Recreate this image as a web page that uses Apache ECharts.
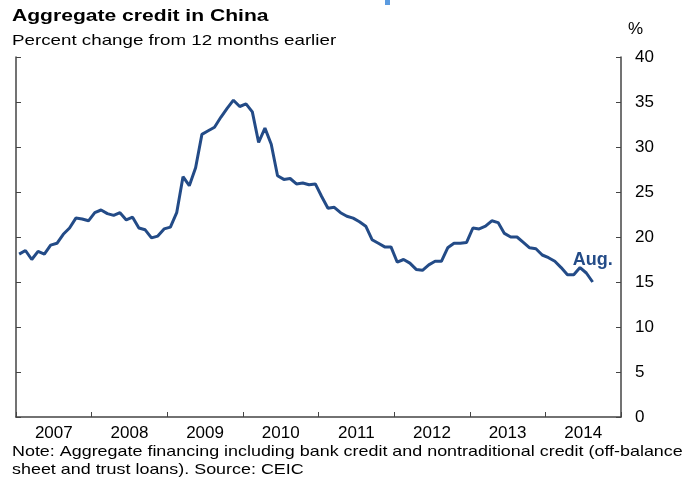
<!DOCTYPE html>
<html><head><meta charset="utf-8">
<script src="https://cdn.jsdelivr.net/npm/echarts@6/dist/echarts.min.js"></script>
<style>html,body{margin:0;padding:0;background:#fff}#c{width:692px;height:481px}</style>
</head><body><div id="c"></div>
<script>
var years = ['2007','2008','2009','2010','2011','2012','2013','2014'];
var yTicks = [0,5,10,15,20,25,30,35,40];
// monthly, Jan 2007 .. Aug 2014
var values = [
  18.1,18.5,17.5,18.4,18.1,19.1,19.3,20.3,21.0,22.1,22.0,21.8,
  22.7,23.0,22.6,22.4,22.7,21.9,22.2,21.0,20.8,19.9,20.1,20.9,
  21.1,22.7,26.7,25.7,27.7,31.4,31.8,32.2,33.3,34.3,35.2,34.5,
  34.8,33.9,30.5,32.1,30.3,26.8,26.4,26.5,25.9,26.0,25.8,25.9,
  24.5,23.2,23.3,22.7,22.3,22.1,21.7,21.2,19.7,19.3,18.9,18.9,
  17.2,17.5,17.1,16.4,16.3,16.9,17.3,17.3,18.8,19.3,19.3,19.4,
  21.0,20.9,21.2,21.8,21.6,20.4,20.0,20.0,19.4,18.8,18.7,18.0,
  17.7,17.3,16.6,15.8,15.8,16.6,16.0,15.0
];
var lastLabel = 'Aug.';

var chart = echarts.init(document.getElementById('c'));
var pts = values.map(function(v,i){ return [i+0.5, v]; });
var nMonths = years.length*12;
var font = 'Liberation Sans, Arial, sans-serif';
var axisCol = '#444';
function txt(s, x, y, f, sx){
  return {type:'text', x:x, y:y, scaleX:sx, originX:0, originY:0,
    style:{text:s, font:f, fill:'#000', textVerticalAlign:'top', verticalAlign:'top'}};
}
chart.setOption({
  animation:false,
  textStyle:{fontFamily:font},
  graphic:[
    txt('Aggregate credit in China', 12, 8, 'bold 17px '+font, 1.24),
    txt('Percent change from 12 months earlier', 12, 33, '15px '+font, 1.25),
    txt('%', 628, 21, '17px '+font, 1),
    txt('Note: Aggregate financing including bank credit and nontraditional credit (off-balance', 12, 444, '15px '+font, 1.194),
    txt('sheet and trust loans). Source: CEIC', 12, 462, '15px '+font, 1.194),
    {type:'rect', x:385, y:0, shape:{width:5,height:5}, style:{fill:'#5b9be0'}}
  ],
  grid:{left:16, right:71, top:57, bottom:64},
  xAxis:[
    {type:'value', min:0, max:nMonths, interval:12,
     axisLine:{show:true, onZero:false, lineStyle:{color:axisCol, width:1.5}},
     axisTick:{show:true, inside:true, length:5, lineStyle:{color:axisCol}},
     axisLabel:{show:false}, splitLine:{show:false}},
    {type:'value', min:0, max:nMonths, interval:6, position:'bottom',
     axisLine:{show:false, onZero:false}, axisTick:{show:false}, splitLine:{show:false},
     axisLabel:{show:true, margin:8, color:'#000', fontSize:17, fontFamily:font,
       showMinLabel:true, showMaxLabel:true,
       formatter:function(v){ return (v%12===6) ? years[(v-6)/12] : ''; }}}
  ],
  yAxis:[
    {type:'value', position:'right', min:0, max:40, interval:5,
     axisLine:{show:true, onZero:false, lineStyle:{color:axisCol, width:1.5}},
     axisTick:{show:true, inside:true, length:5, lineStyle:{color:axisCol}},
     axisLabel:{show:true, margin:14, color:'#000', fontSize:17, fontFamily:font,
       formatter:function(v){ return yTicks.indexOf(v)>=0 ? String(v) : ''; }},
     splitLine:{show:false}},
    {type:'value', position:'left', min:0, max:40, interval:5,
     axisLine:{show:true, onZero:false, lineStyle:{color:axisCol, width:1.5}},
     axisTick:{show:true, inside:true, length:5, lineStyle:{color:axisCol}},
     axisLabel:{show:false}, splitLine:{show:false}}
  ],
  series:[{
    type:'line', xAxisIndex:0, yAxisIndex:0, data:pts, showSymbol:false, symbol:'none',
    lineStyle:{color:'#234b87', width:3}, silent:true,
    markPoint:{
      symbol:'rect', symbolSize:1, itemStyle:{color:'transparent'},
      data:[{coord:pts[pts.length-1], label:{show:true, formatter:lastLabel, position:'top',
        offset:[0,-7], color:'#234b87', fontSize:18, fontWeight:'bold', fontFamily:font}}]
    }
  }]
});
</script></body></html>
